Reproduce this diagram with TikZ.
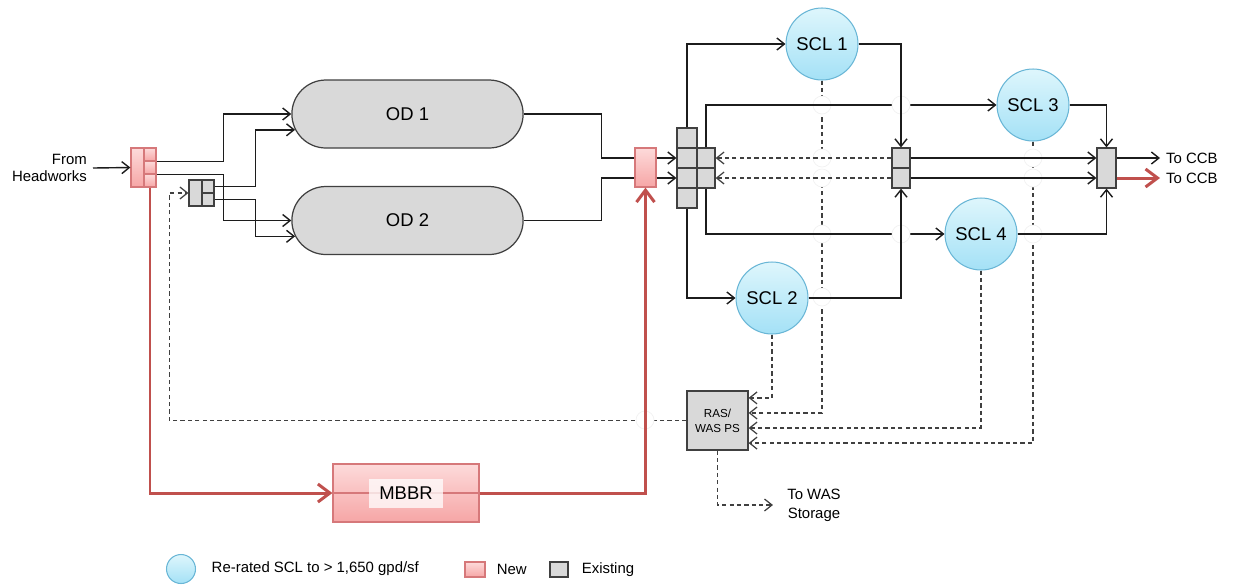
\documentclass[tikz,border=0pt]{standalone}
\usepackage{fontspec}
\setmainfont{Liberation Sans}
\usetikzlibrary{arrows.meta,positioning,calc,shapes.misc}
\definecolor{exgray}{RGB}{217,217,217}
\definecolor{exedge}{RGB}{64,64,64}
\definecolor{newtop}{RGB}{253,218,218}
\definecolor{newbot}{RGB}{246,166,166}
\definecolor{newedge}{RGB}{214,120,122}
\definecolor{scltop}{RGB}{222,246,252}
\definecolor{sclbot}{RGB}{164,225,246}
\definecolor{scledge}{RGB}{105,182,214}
\definecolor{bypass}{RGB}{192,80,77}
\definecolor{lineblk}{RGB}{28,28,28}
\tikzset{
  cellold/.style={draw=exedge, fill=exgray, inner sep=0pt, line width=0.7pt},
  cellnew/.style={draw=newedge, top color=newtop, bottom color=newbot, inner sep=0pt, line width=0.7pt},
  ditch/.style={rounded rectangle, draw=exedge, fill=exgray, line width=0.7pt,
                minimum width=4.86cm, minimum height=1.36cm, font=\fontsize{10.5}{12.6}\selectfont},
  clar/.style={circle, draw=scledge, top color=scltop, bottom color=sclbot, line width=0.6pt,
               minimum size=1.44cm, inner sep=0pt, font=\fontsize{10.5}{12.6}\selectfont},
  pipe/.style={lineblk, line width=0.8pt},
  flow/.style={-{Straight Barb[length=1.5mm,width=2.4mm]}, lineblk, line width=0.8pt},
  sludge/.style={-{Straight Barb[length=1.5mm,width=2.4mm]}, exedge, line width=0.7pt,
                 dash pattern=on 2.4pt off 1.8pt},
  byp/.style={-{Straight Barb[length=2.4mm,width=3.6mm]}, bypass, line width=1.7pt},
  lbl/.style={font=\fontsize{8.5}{10}\selectfont, align=center},
  hop/.style={fill=white, draw=gray!10, line width=0.4pt},
}

\begin{document}
\begin{tikzpicture}[x=0.02cm, y=-0.02cm]
  \useasboundingbox (0,0) rectangle (1233,586);

  % inlet splitter (new)
  \node[cellnew, minimum width=0.26cm, minimum height=0.78cm] (inL) at (137.5,167.5) {};
  \foreach \i/\y in {1/154.5,2/167.5,3/180.5}
    \node[cellnew, minimum width=0.24cm, minimum height=0.26cm] (in\i) at (150,\y) {};
  % ras splitter (existing)
  \node[cellold, minimum width=0.26cm, minimum height=0.52cm] (gL) at (195.5,193) {};
  \foreach \i/\y in {1/186.5,2/199.5}
    \node[cellold, minimum width=0.24cm, minimum height=0.26cm] (g\i) at (208,\y) {};

  \node[ditch] (od1) at (407.5,114) {OD 1};
  \node[ditch] (od2) at (407.5,220.5) {OD 2};

  \node[cellnew, minimum width=0.42cm, minimum height=0.78cm] (mix) at (645.5,167.5) {};
  \foreach \i/\y in {1/138,2/158,3/178,4/198}
    \node[cellold, minimum width=0.4cm, minimum height=0.4cm] (c\i) at (687,\y) {};
  \foreach \i/\y in {1/158,2/178} {
    \node[cellold, minimum width=0.36cm, minimum height=0.4cm] (r\i) at (706,\y) {};
    \node[cellold, minimum width=0.36cm, minimum height=0.4cm] (s\i) at (901,\y) {};
  }
  \node[cellold, minimum width=0.38cm, minimum height=0.8cm] (fin) at (1106.5,168) {};

  \node[clar] (scl1) at (822,44) {SCL 1};
  \node[clar] (scl2) at (772,298) {SCL 2};
  \node[clar] (scl3) at (1033,105) {SCL 3};
  \node[clar] (scl4) at (981,234) {SCL 4};

  \node[cellold, minimum width=1.22cm, minimum height=1.18cm, align=center,
        font=\fontsize{6.6}{8.4}\selectfont] (ras) at (717.5,420.5) {RAS/\\WAS PS};

  \node[cellnew, minimum width=2.92cm, minimum height=1.16cm] (mbbr) at (406,493) {};
  \draw[newedge, line width=0.6pt] (mbbr.west) -- (mbbr.east);
  \node[fill=white, fill opacity=0.75, text opacity=1, minimum width=1.48cm, minimum height=0.58cm,
        font=\fontsize{10.5}{12.6}\selectfont] (mbbrlbl) at (mbbr) {MBBR};

  \node[lbl, align=right, anchor=east, font=\fontsize{8.5}{9.8}\selectfont] (hw) at (93,168) {From\\Headworks};
  \node[lbl, anchor=west] (ccb1) at (1160,158) {To CCB};
  \node[lbl, anchor=west] (ccb2) at (1160,178) {To CCB};
  \node[lbl, inner sep=0pt, font=\fontsize{8.5}{11}\selectfont] (was) at (814,505) {To WAS\\Storage};

  % sludge lines
  \foreach \s/\f in {scl2/0.125,scl1/0.375,scl4/0.625,scl3/0.875}
    \draw[sludge] (\s.south) |- ($(ras.north east)!\f!(ras.south east)$);
  \draw[sludge] (ras.west) -| ([xshift=-0.38cm]gL.west) -- (gL.west);
  \draw[sludge] (ras.south) |- ([xshift=-0.28cm]was.west);
  \foreach \x/\y in {822/105,822/158,822/178,822/234,822/297,1033/158,1033/178,1033/234,645/420}
    \draw[hop] (\x,\y) circle[radius=0.18cm];
  \draw[sludge] (s1.west) -- (r1.east);
  \draw[sludge] (s2.west) -- (r2.east);

  % main flow
  \draw[flow] (hw.east) -- (inL.west);
  \draw[flow] (in1.south east) -- ++(67,0) |- (od1.west);
  \draw[flow] (in2.south east) -- ++(67,0) |- (od2.west);
  \draw[flow] (g1.east) -- ++(41,0) |- (od1.188);
  \draw[flow] (g2.east) -- ++(41,0) |- (od2.188);
  \draw[pipe] (od1.east) -- ++(78,0) |- (mix.west |- c2.west);
  \draw[pipe] (od2.east) -- ++(78,0) |- (mix.west |- c3.west);
  \draw[flow] (mix.east |- c2.west) -- (c2.west);
  \draw[flow] (mix.east |- c3.west) -- (c3.west);
  \draw[flow] (c1.north) |- (scl1.west);
  \draw[flow] (c4.south) |- (scl2.west);
  \draw[flow] (r1.north) |- (scl3.west);
  \draw[flow] (r2.south) |- (scl4.west);
  \foreach \x/\y in {901/105,901/234}
    \draw[hop] (\x,\y) circle[radius=0.18cm];
  \draw[flow] (scl1.east) -| (s1.north);
  \draw[flow] (scl2.east) -| (s2.south);
  \draw[flow] (s1.east) -- (s1.east -| fin.west);
  \draw[flow] (s2.east) -- (s2.east -| fin.west);
  \draw[flow] (scl3.east) -| (fin.north);
  \draw[flow] (scl4.east) -| (fin.south);
  \draw[flow] (s1.east -| fin.east) -- (ccb1.west);
  \draw[byp] (s2.east -| fin.east) -- (ccb2.west);

  % bypass through MBBR
  \draw[byp] (in3.south) |- (mbbr.west);
  \draw[byp] (mbbr.east) -| (mix.south);

  % legend
  \node[clar, minimum size=0.58cm] (keyscl) at (181,569) {};
  \node[lbl, right=0.19cm of keyscl] (keyscltxt) {Re-rated SCL to > 1,650 gpd/sf};
  \node[cellnew, minimum width=0.4cm, minimum height=0.3cm] (keynew) at (475,569.5) {};
  \node[lbl, right=0.1cm of keynew] (keynewtxt) {New};
  \node[cellold, minimum width=0.36cm, minimum height=0.3cm] (keyold) at (559,569.5) {};
  \node[lbl, right=0.14cm of keyold] (keyoldtxt) {Existing};
\end{tikzpicture}
\end{document}
